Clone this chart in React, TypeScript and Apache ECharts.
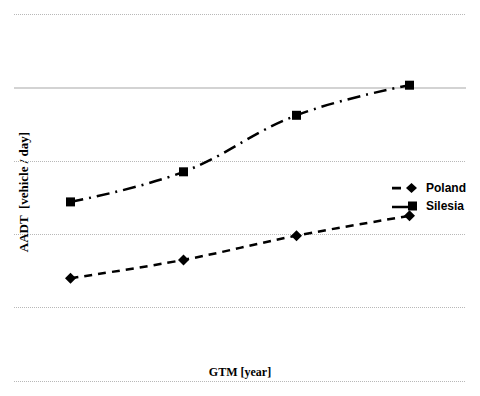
import React, { useEffect, useRef } from "react";
import * as echarts from "echarts";

const categories = ["1", "2", "3", "4"];
const polandValues = [1.4, 1.65, 1.98, 2.25];
const silesiaValues = [2.44, 2.85, 3.62, 4.03];
const yTicks = [0, 1, 2, 3, 4, 5];

const polandIcon = "path://M0,3.8h9v2.6h-9z M14,5 L19.5,0 L25,5 L19.5,10 z";
const silesiaIcon = "path://M0,5.2h16v2.6h-16z M16,1h9v9h-9z";

export default function App() {
  const ref = useRef<HTMLDivElement>(null);
  useEffect(() => {
    document.body.style.margin = "0";
    if (!ref.current) return;
    const chart = echarts.init(ref.current, undefined, { renderer: "svg" });
    const dottedColors = yTicks.map((v) => (v === 4 ? "transparent" : "#b8b8b8"));
    const solidColors = yTicks.map((v) => (v === 4 ? "#c4c4c4" : "transparent"));
    chart.setOption({
      animation: false,
      backgroundColor: "#ffffff",
      grid: { left: 14, right: 14, top: 14, bottom: 15 },
      xAxis: {
        type: "category",
        data: categories,
        boundaryGap: true,
        axisLine: { show: false },
        axisTick: { show: false },
        axisLabel: { show: false },
      },
      yAxis: [
        {
          type: "value",
          min: 0,
          max: 5,
          interval: 1,
          axisLine: { show: false },
          axisTick: { show: false },
          axisLabel: { show: false },
          splitLine: { show: true, lineStyle: { color: dottedColors, type: "dotted", width: 1 } },
        },
        {
          type: "value",
          position: "left",
          min: 0,
          max: 5,
          interval: 1,
          axisLine: { show: false },
          axisTick: { show: false },
          axisLabel: { show: false },
          splitLine: { show: true, lineStyle: { color: solidColors, type: "solid", width: 1.5 } },
        },
      ],
      legend: {
        orient: "vertical",
        right: 9,
        top: 176,
        align: "left",
        itemWidth: 25,
        itemHeight: 10,
        itemGap: 4,
        textStyle: {
          fontFamily: "Liberation Sans",
          fontWeight: "bold",
          fontSize: 12,
          lineHeight: 14,
          color: "#000",
          padding: [0, 0, 0, 4],
        },
        data: [
          { name: "Poland", icon: polandIcon },
          { name: "Silesia", icon: silesiaIcon },
        ],
      },
      series: [
        {
          name: "Poland",
          type: "line",
          data: polandValues,
          smooth: 0.35,
          symbol: "diamond",
          symbolSize: 11,
          itemStyle: { color: "#000" },
          lineStyle: { color: "#000", width: 2.5, type: [8, 6] },
        },
        {
          name: "Silesia",
          type: "line",
          data: silesiaValues,
          smooth: 0.4,
          symbol: "rect",
          symbolSize: 9,
          itemStyle: { color: "#000" },
          lineStyle: { color: "#000", width: 2.5, type: [13, 6, 2, 6] },
        },
      ],
      graphic: [
        {
          type: "text",
          x: 240,
          y: 372,
          style: {
            text: "GTM [year]",
            fontFamily: "Liberation Serif",
            fontWeight: "bold",
            fontSize: 12,
            fill: "#000",
            align: "center",
            verticalAlign: "middle",
          },
        },
        {
          type: "text",
          x: 23,
          y: 192,
          rotation: Math.PI / 2,
          style: {
            text: "AADT  [vehicle / day]",
            fontFamily: "Liberation Serif",
            fontWeight: "bold",
            fontSize: 13,
            fill: "#000",
            align: "center",
            verticalAlign: "middle",
          },
        },
      ],
    });
    return () => chart.dispose();
  }, []);
  return <div ref={ref} style={{ width: 480, height: 396 }} />;
}
